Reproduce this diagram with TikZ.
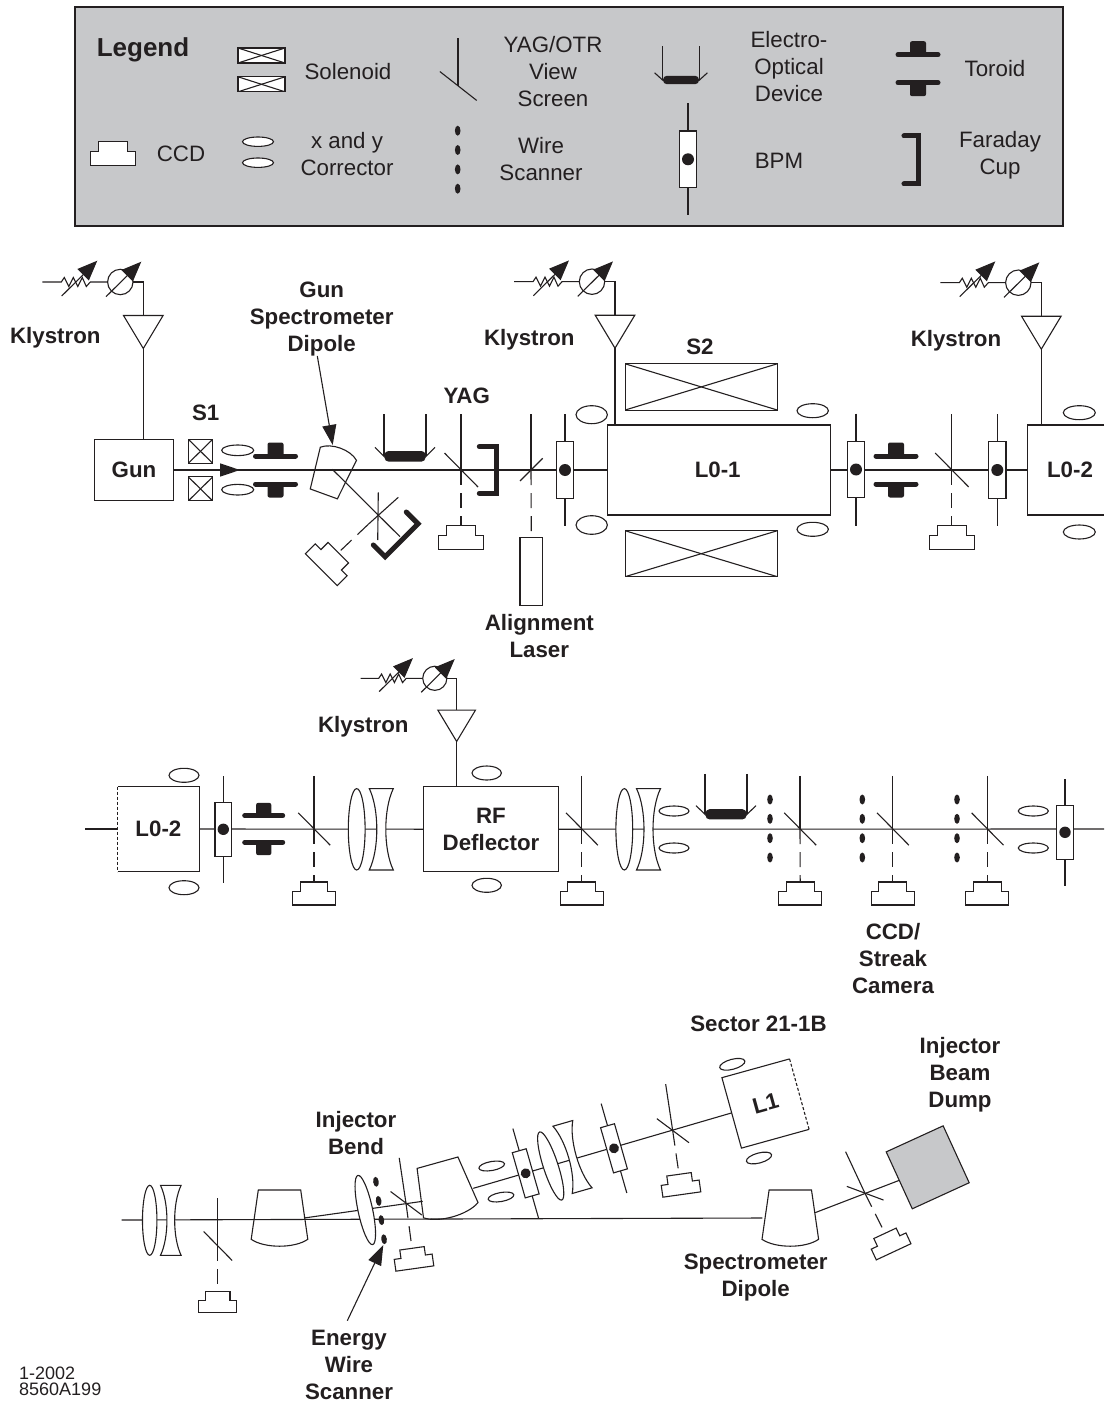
\documentclass[tikz,border=0pt]{standalone}
\usepackage{fontspec}
\setmainfont{Liberation Sans}
\usetikzlibrary{arrows.meta}
\definecolor{ink}{HTML}{231F20}
\definecolor{panelgray}{HTML}{C7C8CA}
\tikzset{
  wire/.style={draw=ink, line width=1.1pt},
  camlink/.style={draw=ink, line width=1.1pt, dash pattern=on 15pt off 8pt},
  pointer/.style={draw=ink, line width=1.1pt, -{Triangle[length=20pt,width=14pt]}},
  tune/.style={draw=ink, line width=1.1pt, -{Triangle[length=20pt,width=16pt]}},
  thickbar/.style={draw=ink, line width=5pt, line cap=round},
  cupline/.style={draw=ink, line width=5pt, line cap=round},
  beamtag/.style={text=ink, align=center, inner sep=0pt, font=\bfseries\fontsize{22.3}{27}\selectfont},
  keytext/.style={text=ink, align=center, inner sep=0pt, font=\fontsize{22.3}{27}\selectfont},
  machine/.style={draw=ink, line width=1.1pt, fill=white, text=ink, align=center, inner sep=0pt, outer sep=0pt, font=\bfseries\fontsize{22.3}{27}\selectfont},
  bare/.style={inner sep=0pt, outer sep=0pt, text=ink, font=\bfseries\fontsize{22.3}{27}\selectfont},
  solbox/.style={draw=ink, line width=1.1pt, fill=white, inner sep=0pt, outer sep=0pt, path picture={
    \draw[wire] (path picture bounding box.north west) -- (path picture bounding box.south east);
    \draw[wire] (path picture bounding box.north east) -- (path picture bounding box.south west);}},
  pics/oval/.style 2 args={code={\draw[wire, fill=white] (0,0) ellipse (#1pt and #2pt);}},
  pics/ccdcam/.style={code={
    \coordinate (-top) at (0,0);
    \draw[wire, fill=white] (-14.5,0) -- (14.5,0) -- (14.5,10) -- (22.5,10) -- (22.5,24) -- (-22.5,24) -- (-22.5,10) -- (-14.5,10) -- cycle;}},
  pics/screen/.style={code={
    \draw[wire] (0,-56) -- (0,0);
    \draw[wire] (-16.5,-17) -- (17,17);}},
  pics/bpm/.style={code={
    \draw[wire] (0,-56) -- (0,56);
    \draw[wire, fill=white] (-8.7,-28.3) rectangle (8.7,28.3);
    \fill[ink] (0,0) circle (6pt);}},
  pics/toroid/.style={code={
    \draw[thickbar] (-20,-14) -- (20,-14);
    \draw[thickbar] (-20,14) -- (20,14);
    \fill[ink, rounded corners=2pt] (-8,-27.5) rectangle (8,-14);
    \fill[ink, rounded corners=2pt] (-8,14) rectangle (8,27.5);}},
  pics/eodevice/.style={code={
    \draw[wire] (-21,-42) -- (-21,0);
    \draw[wire] (21,-42) -- (21,0);
    \draw[wire] (-30,-9) -- (-20,1);
    \draw[wire] (30,-9) -- (20,1);
    \fill[ink, rounded corners=4pt] (-20.5,-5.3) rectangle (20.5,5.3);}},
  pics/wirescan/.style={code={
    \fill[ink] (0,-29) ellipse (2.8pt and 5pt);
    \fill[ink] (0,-9.7) ellipse (2.8pt and 5pt);
    \fill[ink] (0,9.7) ellipse (2.8pt and 5pt);
    \fill[ink] (0,29) ellipse (2.8pt and 5pt);}},
  pics/faraday/.style={code={
    \draw[cupline] (-16.7,-23.3) -- (0,-23.3) -- (0,23.3) -- (-16.7,23.3);}},
  pics/lensconvex/.style={code={\draw[wire, fill=white] (0,0) ellipse (8.4pt and 40.7pt);}},
  pics/lensconcave/.style={code={
    \draw[wire, fill=white] (-12,-40.7) -- (12,-40.7) .. controls (2,-20) and (2,20) .. (12,40.7) -- (-12,40.7) .. controls (-2,20) and (-2,-20) .. (-12,-40.7) -- cycle;}},
  pics/bendmag/.style={code={
    \draw[wire] (-21.2,0) -- (21.2,0) -- (28.3,49.3) .. controls (15,58.5) and (-15,58.5) .. (-28.3,49.3) -- cycle;}},
  pics/klystron/.style={code={
    \coordinate (-amp) at (101,66.5);
    \draw[wire] (0,0) -- (19,0) -- (22,-4.5) -- (26.5,4.5) -- (31,-4.5) -- (35.5,4.5) -- (40,-4.5) -- (44,4.5) -- (48,0) -- (65.3,0);
    \draw[wire] (78,0) circle (12.7pt);
    \draw[wire] (90.7,0) -- (101,0) -- (101,33.5);
    \draw[wire] (81.2,33.5) -- (120.8,33.5) -- (101,66.5) -- cycle;
    \draw[tune] (19.4,14) -- (55,-21.3);
    \draw[tune] (63.7,14.7) -- (99,-20.3);}},
}
\begin{document}
\begin{tikzpicture}[x=1pt,y=-1pt]
  \path[use as bounding box] (0,0) rectangle (1104,1404);

  % legend
  \node[draw=ink, line width=1.1pt, fill=panelgray, minimum width=988pt, minimum height=219pt, inner sep=0pt, outer sep=0pt] (legendbox) at (569,116.5) {};
  \node[beamtag, font=\bfseries\fontsize{26}{30}\selectfont] (legendtitle) at (143,49.5) {Legend};
  \node[solbox, minimum width=47pt, minimum height=15pt] (keysola) at (261.5,55.5) {};
  \node[solbox, minimum width=47pt, minimum height=15pt] (keysolb) at (261.5,84.3) {};
  \node[keytext] (keysoltext) at (348,72) {Solenoid};
  \pic[xscale=1.1,yscale=.85] (keyscreen) at (458,86) {screen};
  \node[keytext] (keyscreentext) at (553,72) {YAG/OTR\\View\\Screen};
  \pic[xscale=.88,yscale=.8] (keyeo) at (681,80) {eodevice};
  \node[keytext] (keyeotext) at (789,67) {Electro-\\Optical\\Device};
  \pic (keytoroid) at (918,68.7) {toroid};
  \node[keytext] (keytoroidtext) at (995,69) {Toroid};
  \pic (keyccd) at (113,141.7) {ccdcam};
  \node[keytext] (keyccdtext) at (181,154) {CCD};
  \pic (keykicka) at (258,141.7) {oval={15.5}{4.7}};
  \pic (keykickb) at (258,162.7) {oval={15.5}{4.7}};
  \node[keytext] (keykicktext) at (347,154) {x and y\\Corrector};
  \pic (keywire) at (457.7,159.7) {wirescan};
  \node[keytext] (keywiretext) at (541,159) {Wire\\Scanner};
  \pic (keybpm) at (688,159.3) {bpm};
  \node[keytext] (keybpmtext) at (779,161) {BPM};
  \pic[xscale=.84,yscale=1.03] (keycup) at (918,160) {faraday};
  \node[keytext] (keycuptext) at (1000,155) {Faraday\\Cup};

  % gun to L0
  \node[machine, minimum width=79.4pt, minimum height=61.4pt] (gun) at (134,470) {Gun};
  \node[machine, minimum width=222.7pt, minimum height=90pt] (lzeroone) at (718.7,470) {};
  \node[bare] (lzeroonetext) at (717.7,470) {L0-1};
  \node[bare, minimum width=76.7pt, minimum height=90pt] (lzerotwo) at (1065.7,470) {};
  \node[bare] (lzerotwotext) at (1070,470) {L0-2};
  \draw[wire] (lzerotwo.north east) -- (lzerotwo.north west) -- (lzerotwo.south west) -- (lzerotwo.south east);
  \draw[wire] (gun.east) -- (lzeroone.west);
  \draw[wire] (lzeroone.east) -- (lzerotwo.west);
  \coordinate (gunarrow) at (240,470);
  \draw[draw=ink, line width=1.7pt, -{Triangle[length=20pt,width=13pt]}] (gun.east) -- (gunarrow);
  \pic (klyone) at (42.3,282) {klystron};
  \draw[wire] (klyone-amp) -- (klyone-amp |- gun.north);
  \node[beamtag] (klyonetext) at (55.3,338) {Klystron};
  \pic (klytwo) at (514,281.7) {klystron};
  \draw[wire] (klytwo-amp) -- (klytwo-amp |- lzeroone.north);
  \node[beamtag] (klytwotext) at (529.3,340) {Klystron};
  \pic (klythree) at (940.3,282.7) {klystron};
  \draw[wire] (klythree-amp) -- (klythree-amp |- lzerotwo.north);
  \node[beamtag] (klythreetext) at (956,341) {Klystron};
  \node[solbox, minimum width=24.4pt, minimum height=24pt] (sonea) at (200.5,451.3) {};
  \node[solbox, minimum width=24.4pt, minimum height=24pt] (soneb) at (200.5,488.9) {};
  \node[beamtag] (sonetext) at (205.7,413.3) {S1};
  \pic (kicka) at (237.7,450.3) {oval={16}{5.3}};
  \pic (kickb) at (237.7,489.7) {oval={16}{5.3}};
  \pic (torone) at (275.5,470) {toroid};
  \pic[rotate=160,xscale=.68,yscale=.866] (gundip) at (323.8,493.9) {bendmag};
  \node[beamtag] (gundiptext) at (321.7,319) {Gun\\Spectrometer\\Dipole};
  \coordinate (gundipfoot) at (317.3,356);
  \coordinate (gundiptip) at (332.7,445);
  \draw[pointer] (gundipfoot) -- (gundiptip);
  \coordinate (gunbranch) at (332.3,469.3);
  \coordinate (gunbranchend) at (400,536.7);
  \draw[wire] (gunbranch) -- (gunbranchend);
  \coordinate (gunscrtop) at (378.3,492.3);
  \coordinate (gunscrlow) at (377.7,540);
  \coordinate (gunscrup) at (398.3,497.3);
  \coordinate (gunscrfoot) at (368.3,524.3);
  \draw[wire] (gunscrtop) -- (gunscrlow);
  \draw[wire] (gunscrup) -- (gunscrfoot);
  \pic[rotate=-45] (gunccd) at (338.3,552.7) {ccdcam};
  \draw[camlink] (gunscrfoot) -- (gunccd-top);
  \pic[rotate=-45] (guncup) at (401.6,540.3) {faraday};
  \pic (eoone) at (405,456.3) {eodevice};
  \coordinate (yagscr) at (461,470);
  \pic (yagscreen) at (yagscr) {screen};
  \pic (yagccd) at (461,525.7) {ccdcam};
  \draw[camlink] (yagscr) -- (yagccd-top);
  \node[beamtag] (yagtext) at (466.7,396) {YAG};
  \pic (yagcup) at (496,470) {faraday};
  \coordinate (alignscr) at (531,470);
  \coordinate (aligntop) at (531,414);
  \coordinate (aligndiaga) at (520,481);
  \coordinate (aligndiagb) at (542.7,458.3);
  \draw[wire] (aligntop) -- (alignscr);
  \draw[wire] (aligndiaga) -- (aligndiagb);
  \node[machine, minimum width=22.7pt, minimum height=67.7pt] (laser) at (531.3,571.2) {};
  \draw[camlink] (alignscr) -- (laser.north);
  \node[beamtag] (lasertext) at (539.3,636) {Alignment\\Laser};
  \pic (bpmone) at (565,470) {bpm};
  \pic (kickc) at (591.7,414.7) {oval={15.7}{9}};
  \pic (kickd) at (591.7,525) {oval={15.7}{9.3}};
  \node[solbox, minimum width=152.3pt, minimum height=46.3pt] (stwoa) at (701.2,386.9) {};
  \node[solbox, minimum width=152.3pt, minimum height=46pt] (stwob) at (701.2,553.7) {};
  \node[beamtag] (stwotext) at (700,346.7) {S2};
  \pic (kicke) at (812.7,410.7) {oval={15.7}{7}};
  \pic (kickf) at (812.7,529.3) {oval={15.7}{7}};
  \pic (bpmtwo) at (856,469.5) {bpm};
  \pic (tortwo) at (896,470) {toroid};
  \coordinate (lzscr) at (951.7,470);
  \pic (lzscreen) at (lzscr) {screen};
  \pic (lzccd) at (951.7,525.7) {ccdcam};
  \draw[camlink] (lzscr) -- (lzccd-top);
  \pic (bpmthree) at (997.3,470) {bpm};
  \pic (kickg) at (1079.3,412.7) {oval={16}{7}};
  \pic (kickh) at (1079.3,532) {oval={16}{7}};

  % L0-2 to RF deflector and diagnostics
  \coordinate (rowtwostart) at (85,829);
  \coordinate (rowtwoend) at (1104,829);
  \node[bare, minimum width=81.3pt, minimum height=85pt] (lzerotwob) at (158.4,829) {L0-2};
  \draw[wire] (lzerotwob.north west) -- (lzerotwob.north east) -- (lzerotwob.south east) -- (lzerotwob.south west);
  \draw[wire, dash pattern=on 3pt off 2pt] (lzerotwob.north west) -- (lzerotwob.south west);
  \node[machine, minimum width=135pt, minimum height=85pt] (rfdefl) at (490.8,829.2) {};
  \node[bare, align=center] (rfdefltext) at (491,829) {RF\\Deflector};
  \draw[wire] (rowtwostart) -- (lzerotwob.west);
  \draw[wire] (lzerotwob.east) -- (rfdefl.west);
  \draw[wire] (rfdefl.east) -- (rowtwoend);
  \pic[scale=.95] (klyfour) at (360.7,678.3) {klystron};
  \draw[wire] (klyfour-amp) -- (klyfour-amp |- rfdefl.north);
  \node[beamtag] (klyfourtext) at (363.3,727) {Klystron};
  \pic (kicki) at (184,775.3) {oval={15}{7}};
  \pic (kickj) at (184,887.7) {oval={15}{7}};
  \pic[scale=.95] (bpmfour) at (223.3,829.3) {bpm};
  \pic[scale=.95] (torthree) at (263.7,829) {toroid};
  \coordinate (scrb) at (314,829);
  \pic[scale=.95] (screenb) at (scrb) {screen};
  \pic[scale=.96] (ccdb) at (314,882) {ccdcam};
  \draw[camlink] (scrb) -- (ccdb-top);
  \pic (lensa) at (356.7,829.3) {lensconvex};
  \pic (lensb) at (381.3,829.3) {lensconcave};
  \pic (kickk) at (486.7,773) {oval={14.7}{7}};
  \pic (kickl) at (486.7,885.3) {oval={14.7}{7}};
  \coordinate (scrc) at (581.7,829);
  \pic[scale=.95] (screenc) at (scrc) {screen};
  \pic[scale=.96] (ccdc) at (581.7,882) {ccdcam};
  \draw[camlink] (scrc) -- (ccdc-top);
  \pic (lensc) at (624.3,829.3) {lensconvex};
  \pic (lensd) at (648.5,829.3) {lensconcave};
  \pic (kickm) at (674,811) {oval={15}{5}};
  \pic (kickn) at (674,848) {oval={15}{5}};
  \pic[yscale=.96] (eotwo) at (726,814.3) {eodevice};
  \pic (wirea) at (770,828.5) {wirescan};
  \coordinate (scrd) at (800,829);
  \pic[scale=.95] (screend) at (scrd) {screen};
  \pic[scale=.96] (ccdd) at (800.2,882) {ccdcam};
  \draw[camlink] (scrd) -- (ccdd-top);
  \pic (wireb) at (862.3,828.5) {wirescan};
  \coordinate (scre) at (892.7,829);
  \pic[scale=.95] (screene) at (scre) {screen};
  \pic[scale=.96] (ccde) at (892.7,882) {ccdcam};
  \draw[camlink] (scre) -- (ccde-top);
  \node[beamtag] (streaktext) at (893,958.5) {CCD/\\Streak\\Camera};
  \pic (wirec) at (957,828.5) {wirescan};
  \coordinate (scrf) at (987.3,829);
  \pic[scale=.95] (screenf) at (scrf) {screen};
  \pic[scale=.96] (ccdf) at (987.3,882) {ccdcam};
  \draw[camlink] (scrf) -- (ccdf-top);
  \pic (kicko) at (1033.3,811) {oval={15}{5}};
  \pic (kickp) at (1033.3,848) {oval={15}{5}};
  \pic[scale=.95] (bpmfive) at (1065,832.3) {bpm};

  % injector bend and dump
  \coordinate (lowstart) at (121.7,1220);
  \coordinate (lowend) at (762.3,1218);
  \coordinate (upstart) at (304,1218);
  \coordinate (upend) at (422.7,1201.3);
  \coordinate (midstart) at (473.3,1188.3);
  \coordinate (dumpstart) at (815,1212.7);
  \node[bare, rotate=15.5, minimum width=70.2pt, minimum height=73.1pt] (lone) at (765.5,1103.5) {L1};
  \draw[wire] (lone.north east) -- (lone.north west) -- (lone.south west) -- (lone.south east);
  \draw[wire, dash pattern=on 3pt off 2pt] (lone.north east) -- (lone.south east);
  \node[draw=ink, line width=1.1pt, fill=panelgray, rotate=24.6, minimum width=62.6pt, minimum height=62.6pt, inner sep=0pt, outer sep=0pt] (dump) at (927.7,1167.3) {};
  \draw[wire] (lowstart) -- (lowend);
  \draw[wire] (upstart) -- (upend);
  \draw[wire] (midstart) -- (lone.west);
  \draw[wire] (dumpstart) -- (dump.west);
  \pic[scale=.86] (lense) at (149.7,1220.3) {lensconvex};
  \pic[scale=.86] (lensf) at (170.8,1220.3) {lensconcave};
  \coordinate (scrg) at (217.7,1246);
  \pic[scale=.85] (screeng) at (scrg) {screen};
  \pic[scale=.85] (ccdg) at (217.7,1291.7) {ccdcam};
  \draw[camlink] (scrg) -- (ccdg-top);
  \pic (dipa) at (279.5,1190) {bendmag};
  \pic[rotate=12,scale=.87] (lensg) at (365.3,1210) {lensconvex};
  \pic[rotate=8] (wired) at (380,1210.5) {wirescan};
  \coordinate (scrh) at (406,1203.3);
  \pic[rotate=8.5,scale=.82] (screenh) at (scrh) {screen};
  \pic[rotate=8,scale=.85] (ccdh) at (412,1248.3) {ccdcam};
  \draw[camlink] (scrh) -- (ccdh-top);
  \pic[rotate=15.6] (dipb) at (437.5,1162.7) {bendmag};
  \node[beamtag] (bendtext) at (356,1133) {Injector\\Bend};
  \pic[rotate=10] (kickq) at (491.7,1166) {oval={13}{4.5}};
  \pic[rotate=10] (kickr) at (501,1197) {oval={13}{4.5}};
  \pic[rotate=16,scale=.83] (bpmsix) at (525.7,1173.3) {bpm};
  \pic[rotate=18,scale=.88] (lensh) at (550.7,1166) {lensconvex};
  \pic[rotate=16,scale=.86] (lensi) at (572.5,1157) {lensconcave};
  \pic[rotate=16,scale=.83] (bpmseven) at (614,1148.3) {bpm};
  \coordinate (scri) at (672.7,1130.7);
  \pic[rotate=8.6,scale=.84] (screeni) at (scri) {screen};
  \pic[rotate=8,scale=.85] (ccdi) at (679,1174.3) {ccdcam};
  \draw[camlink] (scri) -- (ccdi-top);
  \pic[rotate=15] (kicks) at (732.3,1064.3) {oval={13}{5}};
  \pic[rotate=15] (kickt) at (759,1158) {oval={13}{5}};
  \node[beamtag] (sectortext) at (758.5,1024) {Sector 21-1B};
  \pic (dipc) at (790.3,1190) {bendmag};
  \node[beamtag] (spectext) at (755.7,1277.5) {Spectrometer\\Dipole};
  \coordinate (scrj) at (865,1193.3);
  \pic[rotate=25,scale=.82] (screenj) at (scrj) {screen};
  \pic[rotate=25,scale=.85] (ccdj) at (885,1233.3) {ccdcam};
  \draw[camlink] (scrj) -- (ccdj-top);
  \node[beamtag] (dumptext) at (960,1075) {Injector\\Beam\\Dump};
  \coordinate (energyfoot) at (347.3,1320.7);
  \coordinate (energytip) at (383.3,1245);
  \draw[pointer] (energyfoot) -- (energytip);
  \node[beamtag] (energytext) at (349,1365) {Energy\\Wire\\Scanner};
  \node[text=ink, align=left, inner sep=0pt, anchor=west, font=\fontsize{18}{16}\selectfont] (drawingno) at (19,1381) {1-2002\\8560A199};
\end{tikzpicture}
\end{document}
